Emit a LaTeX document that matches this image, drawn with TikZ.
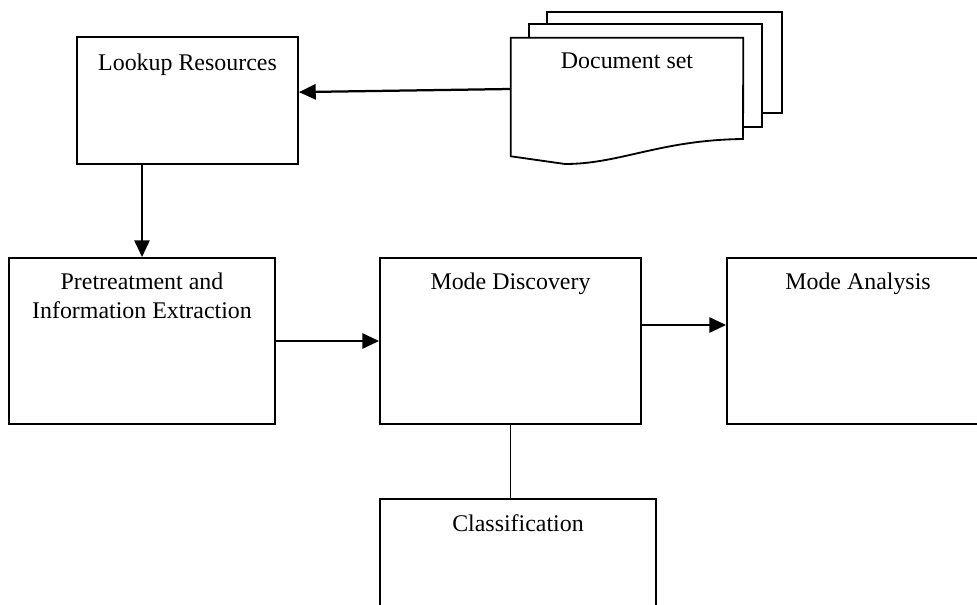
\documentclass[tikz,border=0pt]{standalone}
\usepackage{fontspec}
\setmainfont{Liberation Serif}
\usetikzlibrary{arrows.meta}

\tikzset{
  box/.style={draw, line width=1.3pt, rectangle, inner sep=0pt},
  boxtext/.style={anchor=north, align=center, inner sep=0pt, font=\fontsize{17}{20}\selectfont},
  arr/.style={line width=1.6pt, -{Triangle[length=0.42cm,width=0.38cm]}},
  link/.style={line width=1.3pt}
}

\begin{document}
\begin{tikzpicture}[x=0.025cm, y=-0.025cm]

    \def\px{0.025cm}
    \useasboundingbox (0,0) rectangle (977,604);
    \clip (0,0) rectangle (977,604);

    %boxes of the process
    \node[box, minimum width=221*\px, minimum height=127*\px] (look) at (187.5,100.5) {};
    \node[box, minimum width=266*\px, minimum height=166*\px] (pre) at (142,341) {};
    \node[box, minimum width=261*\px, minimum height=166*\px] (disc) at (510.5,341) {};
    \node[box, minimum width=262*\px, minimum height=166*\px] (anal) at (858,341) {};
    \node[box, minimum width=276*\px, minimum height=166*\px] (cls) at (518,582) {};

    %document set, three pages
    \node[minimum width=232*\px, minimum height=118*\px, inner sep=0pt] (doc) at (627,97) {};
    \draw[link] (547,24) -- (547,12) -- (782,12) -- (782,113) -- (762,113);
    \draw[link] (529,38) -- (529,24) -- (762,24) -- (762,127) -- (743,127);
    \draw[link, fill=white] (doc.north west) -- (doc.north east) -- (743,139)
        .. controls (660,140) and (620,164) .. (565,164) -- (doc.south west) -- cycle;

    %box texts
    \node[boxtext] (lookt) at ([yshift=-0.45cm]look.north) {Lookup Resources};
    \node[boxtext] (doct) at ([yshift=-0.38cm]doc.north) {Document set};
    \node[boxtext] (pret) at ([yshift=-0.4cm]pre.north) {Pretreatment and\\Information Extraction};
    \node[boxtext] (disct) at ([yshift=-0.4cm]disc.north) {Mode Discovery};
    \node[boxtext] (analt) at ([yshift=-0.4cm]anal.north) {Mode Analysis};
    \node[boxtext] (clst) at ([yshift=-0.4cm]cls.north) {Classification};

    %connectors
    \draw[arr] ([yshift=0.2cm]doc.west) -- ([yshift=0.21cm]look.east);
    \draw[arr] (look.south -| pre.north) -- (pre.north);
    \draw[arr] (pre.east) -- (disc.west);
    \draw[arr] ([yshift=0.4cm]disc.east) -- ([yshift=0.4cm]anal.west);
    \draw[link] (disc.south) -- (disc.south |- cls.north);

\end{tikzpicture}
\end{document}
